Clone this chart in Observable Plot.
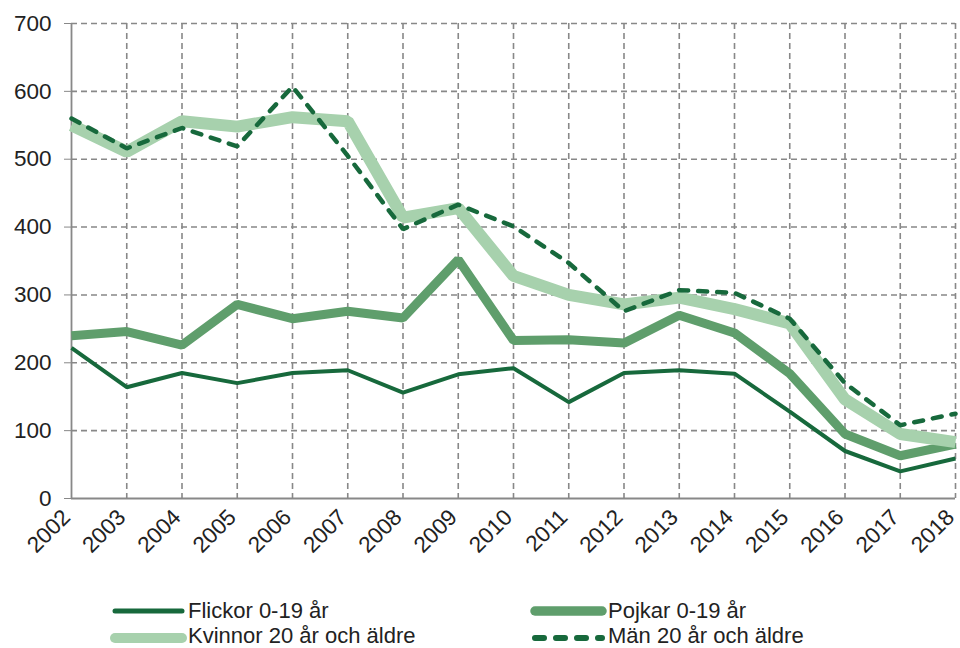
<!DOCTYPE html>
<html>
<head>
<meta charset="utf-8">
<script src="https://cdn.jsdelivr.net/npm/d3@7"></script>
<script src="https://cdn.jsdelivr.net/npm/@observablehq/plot@0.6"></script>
<style>
  body { margin: 0; background: #fff; font-family: "Liberation Sans", Arial, sans-serif; }
  #chart { width: 960px; height: 648px; position: relative; overflow: hidden; }
  #chart svg text { font-size: 22.5px !important; fill: #222 !important; font-family: "Liberation Sans", Arial, sans-serif !important; }
  #chart svg.legend text { font-size: 22px !important; }
</style>
</head>
<body>
<div id="chart"></div>
<script>
const years = [2002,2003,2004,2005,2006,2007,2008,2009,2010,2011,2012,2013,2014,2015,2016,2017,2018];
const flickor = [222,164,185,170,185,189,156,183,192,142,185,189,184,128,70,40,59];
const pojkar  = [240,246,226,286,265,276,266,352,233,234,229,270,244,184,95,63,80];
const kvinnor = [550,511,556,548,562,556,414,428,328,300,286,296,279,258,146,95,83];
const man     = [560,516,546,519,607,505,397,433,401,347,276,307,303,265,170,108,125];
const yTicks = [0,100,200,300,400,500,600,700];

const seriesNames = ["Flickor 0-19 år", "Pojkar 0-19  år", "Kvinnor 20 år och äldre", "Män 20 år och äldre"];
const seriesValues = [flickor, pojkar, kvinnor, man];
const styles = [
  {stroke: "#17693c", width: 4, dash: null},
  {stroke: "#5f9e6c", width: 9, dash: null},
  {stroke: "#a7d1ad", width: 12, dash: null},
  {stroke: "#17693c", width: 4.5, dash: "9,10"}
];
const rows = [];
seriesNames.forEach((s, i) => years.forEach((y, j) => rows.push({series: s, year: y, value: seriesValues[i][j]})));

const H = 588;
const plot = Plot.plot({
  width: 960,
  height: H,
  marginTop: 23,
  marginLeft: 71,
  marginRight: 5,
  marginBottom: H - 498,
  style: {fontFamily: "'Liberation Sans', Arial, sans-serif", fontSize: "22px", color: "#222", background: "#fff", overflow: "visible"},
  x: {type: "linear", domain: [2002, 2018], label: null},
  y: {domain: [0, 700], label: null},
  marks: [
    Plot.ruleY(yTicks.filter(d => d > 0), {stroke: "#888", strokeWidth: 1.6, strokeDasharray: "6,4", strokeOpacity: 1}),
    Plot.ruleX(years.filter(d => d > 2002), {stroke: "#888", strokeWidth: 1.6, strokeDasharray: "6,4", strokeOpacity: 1}),
    Plot.ruleX([2002], {stroke: "#888", strokeWidth: 1.8}),
    Plot.ruleY([0], {stroke: "#888", strokeWidth: 1.8}),
    Plot.axisY({ticks: yTicks, tickSize: 7, tickPadding: 13, stroke: "#888", tickFormat: d => d, label: null}),
    Plot.axisX({ticks: years, tickSize: 0, tickPadding: 15, tickRotate: -45, dx: -5, tickFormat: d => String(d), label: null}),
    ...seriesNames.map((s, i) => Plot.line(rows.filter(r => r.series === s), {
      x: "year", y: "value",
      stroke: styles[i].stroke, strokeWidth: styles[i].width,
      strokeDasharray: styles[i].dash || undefined,
      strokeLinejoin: "miter", strokeLinecap: styles[i].dash ? "round" : "butt",
      curve: "linear"
    }))
  ]
});
document.getElementById("chart").appendChild(plot);

// Legend below the SVG
const ns = "http://www.w3.org/2000/svg";
const leg = document.createElementNS(ns, "svg");
leg.setAttribute("class", "legend");
leg.setAttribute("width", 960);
leg.setAttribute("height", 648 - H);
leg.style.display = "block";
const pos = [
  {lx: 112, ty: 23, tb: 30}, {lx: 532, ty: 23, tb: 30}, {lx: 112, ty: 50, tb: 55}, {lx: 532, ty: 50, tb: 55}
];
const legW = [5, 9.5, 10, 6];
seriesNames.forEach((s, i) => {
  const p = pos[i];
  const ln = document.createElementNS(ns, "line");
  ln.setAttribute("x1", p.lx + 3); ln.setAttribute("x2", p.lx + 70);
  ln.setAttribute("y1", p.ty); ln.setAttribute("y2", p.ty);
  ln.setAttribute("stroke", styles[i].stroke);
  ln.setAttribute("stroke-width", legW[i]);
  ln.setAttribute("stroke-linecap", "round");
  if (styles[i].dash) ln.setAttribute("stroke-dasharray", "9,12");
  leg.appendChild(ln);
  const t = document.createElementNS(ns, "text");
  t.setAttribute("x", p.lx + 76); t.setAttribute("y", p.tb);
  t.setAttribute("fill", "#222");
  t.textContent = s;
  leg.appendChild(t);
});
document.getElementById("chart").appendChild(leg);
</script>
</body>
</html>
